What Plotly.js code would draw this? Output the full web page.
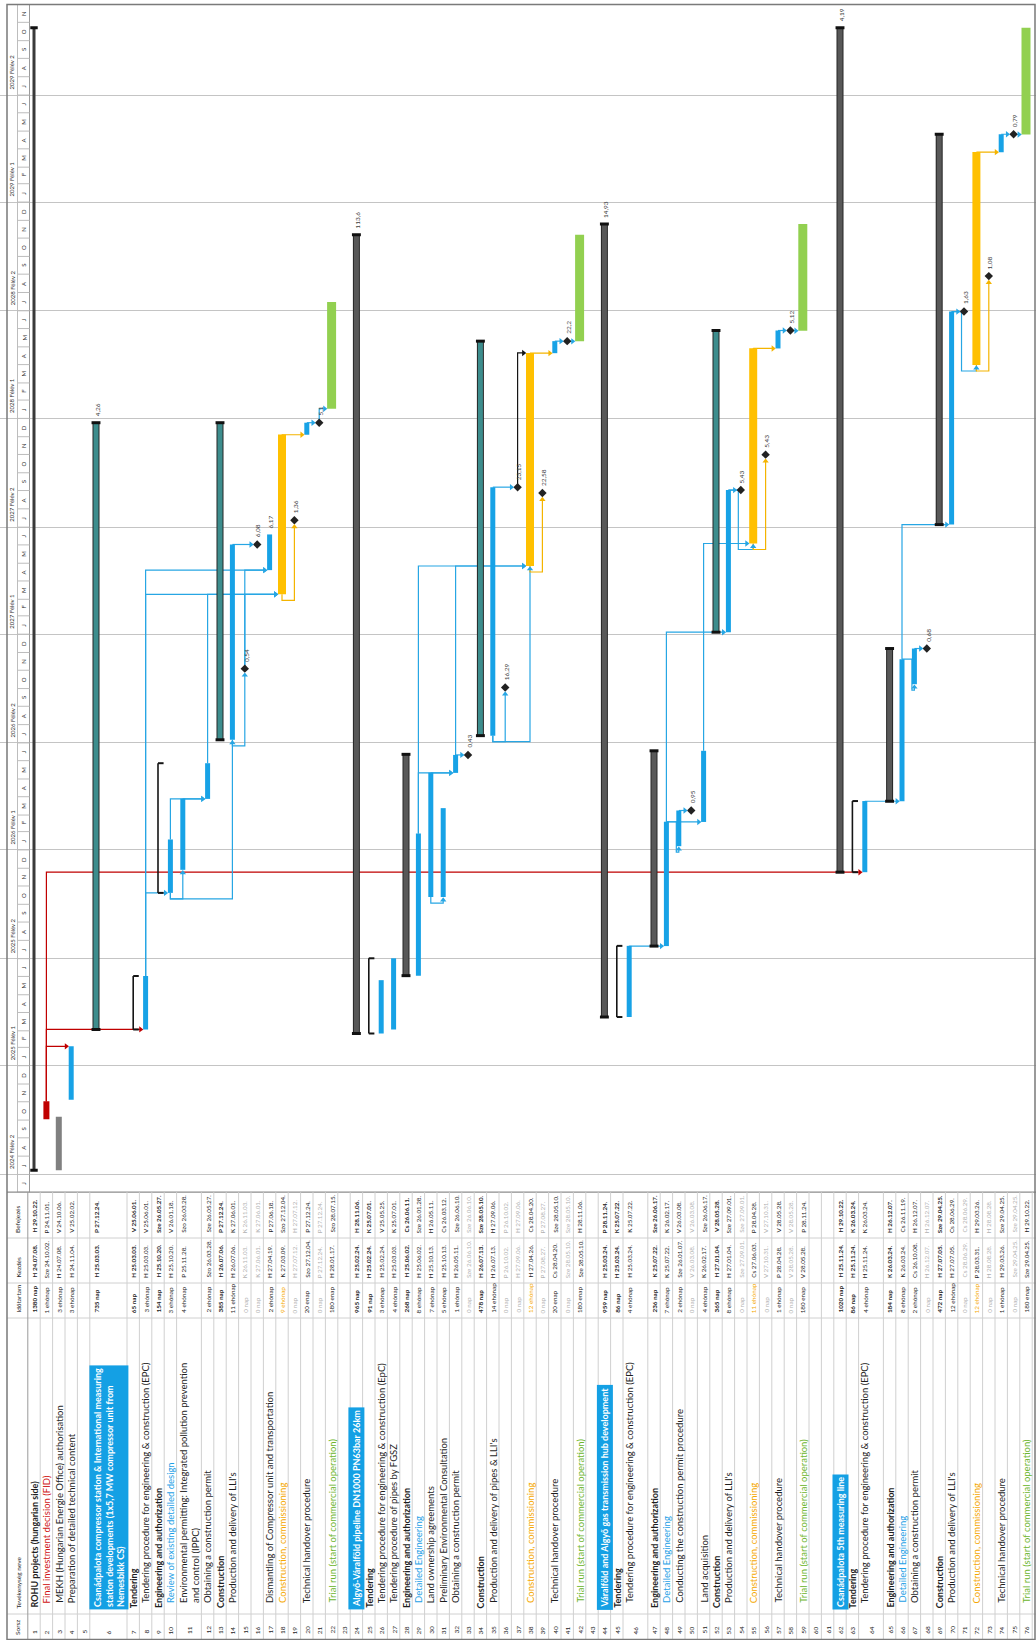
<!DOCTYPE html>
<html>
<head>
<meta charset="utf-8">
<script src="https://cdn.plot.ly/plotly-3.0.1.min.js"></script>
<style>
html,body{margin:0;padding:0;background:#ffffff;}
#gantt{width:1036px;height:1640px;}
</style>
</head>
<body>
<div id="gantt"></div>
<script>
// ===================== DATA =====================
const taskNames = [
 "ROHU projects (hungarian side)",                                  //1
 "Final investment decision (FID)",                                 //2
 "MEKH (Hungarian Energie Office) authorisation",                   //3
 "Preparation of detailed technical content",                       //4
 "",                                                                //5
 "Csanádpalota compressor station & International measuring<br>station developments (1x5,7 MW compressor unit from<br>Nemesbikk CS)", //6
 "Tendering",                                                       //7
 "Tendering procedure for engineering & construction (EPC)",        //8
 "Engineering and authorization",                                   //9
 "Review of existing detailed design",                              //10
 "Environmental permitting: Integrated pollution prevention<br>and control (IPPC)", //11
 "Obtaining a construction permit",                                 //12
 "Construction",                                                    //13
 "Production and delivery of LLI's",                                //14
 "",                                                                //15
 "",                                                                //16
 "Dismantling of Compressor unit and transportation",               //17
 "Construction, commissioning",                                     //18
 "",                                                                //19
 "Technical handover procedure",                                    //20
 "",                                                                //21
 "Trial run (start of commercial operation)",                       //22
 "",                                                                //23
 "Algyő-Váralföld pipeline DN1000 PN63bar 26km",                    //24
 "Tendering",                                                       //25
 "Tendering procedure for engineering & construction (EpC)",        //26
 "Tendering procedure of pipes by FGSZ",                            //27
 "Engineering and authorization",                                   //28
 "Detailed Engineering",                                            //29
 "Land ownership agreements",                                       //30
 "Preliminary Environmental Consultation",                          //31
 "Obtaining a construction permit",                                 //32
 "",                                                                //33
 "Construction",                                                    //34
 "Production and delivery of pipes & LLI's",                        //35
 "",                                                                //36
 "",                                                                //37
 "Construction, commissioning",                                     //38
 "",                                                                //39
 "Technical handover procedure",                                    //40
 "",                                                                //41
 "Trial run (start of commercial operation)",                       //42
 "",                                                                //43
 "Váralföld and Algyő gas transmission hub development",            //44
 "Tendering",                                                       //45
 "Tendering procedure for engineering & construction (EPC)",        //46
 "Engineering and authorization",                                   //47
 "Detailed Engineering",                                            //48
 "Conducting the construction permit procedure",                    //49
 "",                                                                //50
 "Land acquisition",                                                //51
 "Construction",                                                    //52
 "Production and delivery of LLI's",                                //53
 "",                                                                //54
 "Construction, commissioning",                                     //55
 "",                                                                //56
 "Technical handover procedure",                                    //57
 "",                                                                //58
 "Trial run (start of commercial operation)",                       //59
 "",                                                                //60
 "",                                                                //61
 "Csanádpalota 5th measuring line",                                 //62
 "Tendering",                                                       //63
 "Tendering procedure for engineering & construction (EPC)",        //64
 "Engineering and authorization",                                   //65
 "Detailed Engineering",                                            //66
 "Obtaining a construction permit",                                 //67
 "",                                                                //68
 "Construction",                                                    //69
 "Production and delivery of LLI's",                                //70
 "",                                                                //71
 "Construction, commissioning",                                     //72
 "",                                                                //73
 "Technical handover procedure",                                    //74
 "",                                                                //75
 "Trial run (start of commercial operation)"                        //76
];

const durations = [
 "1380 nap","1 ehónap","3 ehónap","3 ehónap","",
 "735 nap","65 nap","3 ehónap","154 nap","3 ehónap","4 ehónap","2 ehónap","385 nap","11 ehónap",
 "0 nap","0 nap","2 ehónap","9 ehónap","0 nap","20 enap","0 nap","180 enap","",
 "965 nap","91 nap","3 ehónap","4 ehónap","268 nap","8 ehónap","7 ehónap","5 ehónap","1 ehónap",
 "0 nap","478 nap","14 ehónap","0 nap","0 nap","12 ehónap","0 nap","20 enap","0 nap","180 enap","",
 "959 nap","86 nap","4 ehónap","236 nap","7 ehónap","2 ehónap","0 nap","4 ehónap","365 nap",
 "8 ehónap","0 nap","11 ehónap","0 nap","1 ehónap","0 nap","180 enap","","",
 "1020 nap","86 nap","4 ehónap","184 nap","8 ehónap","2 ehónap","0 nap","472 nap","12 ehónap",
 "0 nap","12 ehónap","0 nap","1 ehónap","0 nap","180 enap"
];

const startDates = [
 "H 24.07.08.","Sze 24.10.02.","H 24.07.08.","H 24.11.04.","",
 "H 25.03.03.","H 25.03.03.","H 25.03.03.","H 25.10.20.","H 25.10.20.","P 25.11.28.","Szo 26.03.28.","H 26.07.06.","H 26.07.06.",
 "K 26.11.03.","K 27.06.01.","H 27.04.19.","K 27.03.09.","H 27.07.12.","Szo 27.12.04.","P 27.12.24.","H 28.01.17.","",
 "H 25.02.24.","H 25.02.24.","H 25.02.24.","H 25.03.03.","H 25.06.02.","H 25.06.02.","H 25.10.13.","H 25.10.13.","H 26.05.11.",
 "Sze 26.06.10.","H 26.07.13.","H 26.07.13.","P 26.10.02.","H 27.09.06.","H 27.04.26.","P 27.08.27.","Cs 28.04.20.","Sze 28.05.10.","Sze 28.05.10.","",
 "H 25.03.24.","H 25.03.24.","H 25.03.24.","K 25.07.22.","K 25.07.22.","Sze 26.01.07.","V 26.03.08.","K 26.02.17.","H 27.01.04.",
 "H 27.01.04.","Sze 27.09.01.","Cs 27.06.03.","V 27.10.31.","P 28.04.28.","V 28.05.28.","V 28.05.28.","","",
 "H 25.11.24.","H 25.11.24.","H 25.11.24.","K 26.03.24.","K 26.03.24.","Cs 26.10.08.","H 26.12.07.","H 27.07.05.","H 27.07.05.",
 "Cs 28.06.29.","P 28.03.31.","H 28.08.28.","H 29.03.26.","Sze 29.04.25.","Sze 29.04.25."
];

const endDates = [
 "H 29.10.22.","P 24.11.01.","V 24.10.06.","V 25.02.02.","",
 "P 27.12.24.","V 25.06.01.","V 25.06.01.","Sze 26.05.27.","V 26.01.18.","Szo 26.03.28.","Sze 26.05.27.","P 27.12.24.","K 27.06.01.",
 "K 26.11.03.","K 27.06.01.","P 27.06.18.","Szo 27.12.04.","H 27.07.12.","P 27.12.24.","P 27.12.24.","Szo 28.07.15.","",
 "H 28.11.06.","K 25.07.01.","V 25.05.25.","K 25.07.01.","Cs 26.06.11.","Sze 26.01.28.","H 26.05.11.","Cs 26.03.12.","Sze 26.06.10.",
 "Sze 26.06.10.","Sze 28.05.10.","H 27.09.06.","P 26.10.02.","H 27.09.06.","Cs 28.04.20.","P 27.08.27.","Sze 28.05.10.","Sze 28.05.10.","H 28.11.06.","",
 "P 28.11.24.","K 25.07.22.","K 25.07.22.","Sze 26.06.17.","K 26.02.17.","V 26.03.08.","V 26.03.08.","Sze 26.06.17.","V 28.05.28.",
 "Sze 27.09.01.","Sze 27.09.01.","P 28.04.28.","V 27.10.31.","V 28.05.28.","V 28.05.28.","P 28.11.24.","","",
 "H 29.10.22.","K 26.03.24.","K 26.03.24.","H 26.12.07.","Cs 26.11.19.","H 26.12.07.","H 26.12.07.","Sze 29.04.25.","Cs 28.06.29.",
 "Cs 28.06.29.","H 29.03.26.","H 28.08.28.","Sze 29.04.25.","Sze 29.04.25.","H 29.10.22."
];

// task kind (semantic category of each row)
const taskType = [
 "project","fid","authority","task","none",
 "summary","bracket","task","bracket","task","task","task","summary","task",
 "milestone","milestone","task","commissioning","milestone","task","milestone","trial","none",
 "darksum","bracket","task","task","darksum","task","task","task","task",
 "milestone","summary","task","milestone","milestone","commissioning","milestone","task","milestone","trial","none",
 "darksum","bracket","task","darksum","task","task","milestone","task","summary",
 "task","milestone","commissioning","milestone","task","milestone","trial","none","none",
 "darksum","bracket","task","darksum","task","task","milestone","darksum","task",
 "milestone","commissioning","milestone","task","milestone","trial"
];

// outline level of each row
const outlineLevel = [
 1,2,2,2,0,
 2,3,4,3,4,4,4,3,4,
 4,4,4,4,4,4,4,4,0,
 2,3,4,4,3,4,4,4,4,
 4,3,4,4,4,4,4,4,4,4,0,
 2,3,4,3,4,4,4,4,3,
 4,4,4,4,4,4,4,0,0,
 2,3,4,3,4,4,4,3,4,
 4,4,4,4,4,4
];

// numbers written next to bar ends / milestones
const labelRows  = [6,15,16,17,19,21,24,33,36,37,39,41,44,50,54,56,58,62,68,71,73,75];
const labelTexts = ["4,26","0,54","6,08","6,17","1,36","5,1","113,6","0,43","16,29","23,15","22,58","22,2",
                    "14,93","0,95","5,43","5,43","5,12","4,19","0,68","1,63","1,08","0,79"];

// dependency links: predecessor row, successor row, kind
const linkFrom = [2,2,2,8,8,8,10,10,10,11,12,14,14,15,15,18,18,20,21,
                  29,30,30,29,32,32,35,35,35,37,38,38,40,41,
                  46,48,48,48,49,51,53,53,55,55,57,58,
                  64,66,66,67,70,70,72,72,74,75];
const linkTo   = [4,8,64,10,17,18,11,14,12,12,18,15,16,17,18,19,20,21,22,
                  32,32,31,38,38,33,36,38,37,38,39,40,41,42,
                  48,49,51,53,50,55,54,55,56,57,58,59,
                  66,67,70,68,71,72,73,74,75,76];
const linkKind = ["FF","FS","FS","FS","FS","FS","SS","SS","FS","FS","FS","SS","FS","FS","FS","SS","FS","FS","FS",
                  "FS","FS","SS","FS","FS","FS","SS","SS","FS","FF","SS","FS","FS","FS",
                  "FS","FS","FS","FS","FS","FS","FS","FS","SS","FS","FS","FS",
                  "FS","FS","FS","FS","FS","FS","SS","FS","FS","FS"];

const tableHeaders = ["Sorsz","Tevékenység neve","Időtartam","Kezdés","Befejezés"];
const monthLetters = ["J","F","M","A","M","J","J","A","S","O","N","D"];
const halfYearLabel = "Félév";

// ===================== LAYOUT / STYLE =====================
const W = 1036, H = 1640;
const FONT = 'Lato, "Open Sans", "DejaVu Sans", sans-serif';
const DAY = 864e5;
const U = 12.4, X0 = 34;                    // px per row unit, px of first unit
const px2x = px => (px - X0) / U;
const yPaper = px => 1 - px / H;
const PLOT_TOP = 4.6, TABLE_TOP = 1192.2;
const T_MIN = Date.UTC(2024,5,1), T_MAX = Date.UTC(2029,11,1);
const PX_PER_DAY = (TABLE_TOP - PLOT_TOP) / ((T_MAX - T_MIN) / DAY);
const pxMs = px => px / PX_PER_DAY * DAY;
const COL = {end:[1192.2,1238], start:[1238,1283], dur:[1283,1318], name:[1318,1614], num:[1614,1640]};
const rowSpan = {6:3, 11:2, 46:2, 64:2};

const C = {
  blue:'#17a2e6', linkBlue:'#27a6e4', orange:'#ffc000', linkOrange:'#f4b400', green:'#92d050',
  red:'#c00000', gray:'#808080', teal:'#3d8d8d', dark:'#585858', edge:'#262626', black:'#151515',
  grid:'#c4c4c4', tline:'#d0d0d0', border:'#7a7a7a', text:'#1e1e1e', faint:'#b0b0b0',
  cellBlue:'#14a0e4', nameBlue:'#1e9fe6', nameOrange:'#f5a800', nameGreen:'#6db52d', nameRed:'#d01414'
};
const BAR = {
  project:{w:3, c:'#3a3a3a', caps:'center', capW:0.3},
  fid:{w:6, c:C.red},
  authority:{w:6, c:C.gray},
  task:{w:5, c:C.blue},
  summary:{w:5, c:C.teal, edge:C.edge, caps:'center', capW:0.36},
  darksum:{w:5, c:C.dark, edge:C.edge, caps:'center', capW:0.36},
  bracket:{w:1.6, c:C.black, caps:'right', capW:0.45},
  commissioning:{w:8, c:C.orange},
  trial:{w:9, c:C.green}
};
const NAME_SIZE = 9.5, CELL_SIZE = 9, SMALL_SIZE = 6.3;

// ---------- helpers ----------
function parseHu(s){ const m = s.match(/(\d\d)\.(\d\d)\.(\d\d)\./); return Date.UTC(2000 + +m[1], +m[2]-1, +m[3]); }
const N = taskNames.length;
const unitOf = []; { let u = 0; for (let i = 0; i < N; i++){ unitOf.push(u); u += (rowSpan[i+1] || 1); } }
const bandCenter = i => unitOf[i] + ((rowSpan[i+1] || 1) - 1) / 2;
const isMs = i => taskType[i] === 'milestone';
const yStart = i => isMs(i) ? parseHu(endDates[i]) + 0.7*DAY : parseHu(startDates[i]) + 0.33*DAY;
const yEnd   = i => parseHu(endDates[i]) + 0.7*DAY;
const halfW  = i => isMs(i) ? 3.8/U : (BAR[taskType[i]].w/2 + (BAR[taskType[i]].edge ? 1 : 0))/U;
const esc = s => s.replace(/&/g, '&amp;');

const groups = {};
function seg(key, x0, y0, x1, y1){ (groups[key] = groups[key] || {x:[], y:[]}); groups[key].x.push(x0, x1, null); groups[key].y.push(y0, y1, null); }
function poly(key, pts){ (groups[key] = groups[key] || {x:[], y:[]}); pts.forEach(p => { groups[key].x.push(p[0]); groups[key].y.push(p[1]); }); groups[key].x.push(null); groups[key].y.push(null); }
const arrows = {};
function arrow(key, x, y){ (arrows[key] = arrows[key] || {x:[], y:[]}); arrows[key].x.push(x); arrows[key].y.push(y); }

// ---------- links ----------
function linkColor(p, kind){
  const t = taskType[p];
  if (t === 'fid') return 'red';
  if (t === 'commissioning') return 'orange';
  if (kind === 'FF' && t === 'milestone') return 'black';
  return 'blue';
}
for (let k = 0; k < linkFrom.length; k++){
  const p = linkFrom[k]-1, s = linkTo[k]-1, kind = linkKind[k];
  const xp = unitOf[p], xs = unitOf[s];
  const col = linkColor(p, kind);
  if (kind === 'SS'){
    const yb = yStart(p) - pxMs(6);
    const ye = yStart(s) - pxMs(isMs(s) ? 6.5 : 3);
    poly('link:'+col, [[xp, yStart(p)], [xp, yb], [xs, yb], [xs, ye]]);
    arrow(col+':up', xs, ye);
  } else {
    const yT = kind === 'FF' ? yEnd(s) : yStart(s);
    const yP = yEnd(p);
    if (kind === 'FS' && yT < yP - 1.5*DAY){
      const xm = xp + 0.8, yb = yT - pxMs(6), ye = yT - pxMs(isMs(s) ? 6.5 : 3);
      poly('link:'+col, [[xp, yP], [xm, yP], [xm, yb], [xs, yb], [xs, ye]]);
      arrow(col+':up', xs, ye);
    } else {
      const xe = xs - halfW(s) - 2.5/U;
      poly('link:'+col, [[xp, yP], [xp, yT], [xe, yT]]);
      arrow(col+':right', xe, yT);
    }
  }
}

// ---------- bars ----------
const msX = [], msY = [];
for (let i = 0; i < N; i++){
  const t = taskType[i];
  if (t === 'none') continue;
  const x = unitOf[i];
  if (t === 'milestone'){ msX.push(x); msY.push(yEnd(i)); continue; }
  const b = BAR[t], y0 = yStart(i), y1 = yEnd(i);
  if (b.edge) seg('edge:'+t, x, y0, x, y1);
  seg('bar:'+t, x, y0, x, y1);
  if (b.caps === 'center'){ seg('cap:'+t, x-b.capW, y0, x+b.capW, y0); seg('cap:'+t, x-b.capW, y1, x+b.capW, y1); }
  if (b.caps === 'right'){ seg('cap:'+t, x, y0, x+b.capW, y0); seg('cap:'+t, x, y1, x+b.capW, y1); }
}

const traces = [];
const LINKC = {blue:C.linkBlue, orange:C.linkOrange, red:C.red, black:C.black};
const base = {type:'scatter', hoverinfo:'skip', showlegend:false, xaxis:'x', yaxis:'y'};
Object.keys(groups).filter(k => k.startsWith('link:')).forEach(k => {
  traces.push(Object.assign({}, base, {mode:'lines', x:groups[k].x, y:groups[k].y, line:{color:LINKC[k.slice(5)], width:1.2}}));
});
['edge','bar','cap'].forEach(layer => {
  Object.keys(groups).filter(k => k.startsWith(layer+':')).forEach(k => {
    const t = k.split(':')[1], b = BAR[t];
    let color = b.c, width = b.w;
    if (layer === 'edge'){ color = b.edge; width = b.w + 2; }
    if (layer === 'cap'){ color = b.caps === 'right' ? C.black : '#111111'; width = b.caps === 'right' ? 2 : 3; }
    traces.push(Object.assign({}, base, {mode:'lines', x:groups[k].x, y:groups[k].y, line:{color, width}}));
  });
});
traces.push(Object.assign({}, base, {mode:'markers', x:msX, y:msY, marker:{symbol:'diamond', size:6.5, color:'#222222', line:{width:0}}}));
Object.keys(arrows).forEach(k => {
  const [col, dir] = k.split(':');
  traces.push(Object.assign({}, base, {mode:'markers', x:arrows[k].x, y:arrows[k].y,
    marker:{symbol: dir === 'up' ? 'triangle-up' : 'triangle-right', size:5.5, color:LINKC[col], line:{width:0}}}));
});

// ---------- shapes ----------
const shapes = [];
const hline = (x0px, x1px, ypx, color, width) => shapes.push({type:'line', xref:'x', yref:'paper', x0:px2x(x0px), x1:px2x(x1px), y0:yPaper(ypx), y1:yPaper(ypx), line:{color, width}});
const vline = (xpx, y0px, y1px, color, width) => shapes.push({type:'line', xref:'x', yref:'paper', x0:px2x(xpx), x1:px2x(xpx), y0:yPaper(y0px), y1:yPaper(y1px), line:{color, width}});

// timeline header (rotated): tier separator, right edge, month ticks
vline(17.5, PLOT_TOP, TABLE_TOP, '#bdbdbd', 1);
vline(29.5, PLOT_TOP, TABLE_TOP, '#9a9a9a', 1);
const months = [];
for (let y = 2024, m = 5; ; m++){
  if (m > 11){ m = 0; y++; }
  if (y === 2029 && m > 10) break;
  months.push([y, m]);
}
months.forEach(([y, m]) => {
  const t = Date.UTC(y, m, 1);
  shapes.push({type:'line', xref:'x', yref:'y', x0:px2x(17.5), x1:px2x(29.5), y0:t, y1:t, line:{color:'#bdbdbd', width:1}});
});
// table lines
hline(7, W, TABLE_TOP, '#8c8c8c', 1.2);
[COL.end[1], COL.start[1], COL.dur[1], COL.name[1]].forEach(y => hline(7, W, y, C.tline, 1));
for (let i = 0; i <= N; i++){
  const u = i < N ? unitOf[i] - 0.5 : unitOf[N-1] + (rowSpan[N] || 1) - 0.5;
  shapes.push({type:'line', xref:'x', yref:'paper', x0:u, x1:u, y0:yPaper(TABLE_TOP), y1:yPaper(H), line:{color: i === 0 ? '#9a9a9a' : C.tline, width:1}});
}
// outer border
shapes.push({type:'rect', xref:'paper', yref:'paper', x0:7/W, x1:1035/W, y0:yPaper(1639.5), y1:yPaper(PLOT_TOP), line:{color:C.border, width:1.5}, fillcolor:'rgba(0,0,0,0)'});

// ---------- annotations ----------
const ann = [];
function vtext(x, ypx, text, size, color, extra){
  ann.push(Object.assign({x, y:yPaper(ypx), xref:'x', yref:'paper', text, showarrow:false, textangle:-90,
    xanchor:'center', yanchor:'bottom', align:'left', font:{family:FONT, size, color}}, extra || {}));
}
// timeline header text
months.forEach(([y, m]) => {
  const mid = Date.UTC(y, m, 1) + 15*DAY;
  ann.push({x:px2x(23.5), y:mid, xref:'x', yref:'y', text:monthLetters[m], showarrow:false, textangle:-90,
    xanchor:'center', yanchor:'middle', font:{family:FONT, size:6, color:'#333'}});
  if ((m === 0 || m === 6) && Date.UTC(y, m, 1) >= Date.UTC(2024,6,1)){
    ann.push({x:px2x(12), y:Date.UTC(y, m, 1), xref:'x', yref:'y', yshift:3, text:y + ' ' + halfYearLabel + ' ' + (m === 0 ? 1 : 2),
      showarrow:false, textangle:-90, xanchor:'center', yanchor:'bottom', font:{family:FONT, size:6, color:'#333'}});
  }
});
// table header cell
const hx = px2x(17.5);
vtext(hx, COL.num[1]-3,   tableHeaders[0], 6.5, C.text);
vtext(hx, COL.name[1]-3,  tableHeaders[1], 6.5, C.text);
vtext(hx, COL.dur[1]-3,   tableHeaders[2], 6.5, C.text);
vtext(hx, COL.start[1]-3, tableHeaders[3], 6.5, C.text);
vtext(hx, COL.end[1]-3,   tableHeaders[4], 6.5, C.text);

// table rows
for (let i = 0; i < N; i++){
  const t = taskType[i], lvl = outlineLevel[i];
  const bc = bandCenter(i), x1 = unitOf[i];
  const bold = ['project','summary','darksum','bracket'].includes(t);
  vtext(bc, COL.num[1]-4, String(i+1), 6.5, C.text);
  if (t === 'none') continue;
  const name = taskNames[i];
  if (name){
    const blueCell = lvl === 2 && (t === 'summary' || t === 'darksum');
    let color = C.text;
    if (t === 'fid') color = C.nameRed;
    else if (t === 'commissioning') color = C.nameOrange;
    else if (t === 'trial') color = C.nameGreen;
    else if (/Detailed Engineering|Review of existing/.test(name)) color = C.nameBlue;
    const indent = (lvl === 4 || (lvl === 2 && !blueCell)) ? 9 : 4;
    const txt = bold ? '<b>' + esc(name) + '</b>' : esc(name);
    const xName = (rowSpan[i+1] && name.indexOf('<br>') < 0) ? x1 : bc;
    if (blueCell){
      vtext(xName, COL.name[1]-4, txt, CELL_SIZE, '#ffffff', {bgcolor:C.cellBlue, borderpad:2});
    } else {
      vtext(xName, COL.name[1]-indent, txt, bold ? NAME_SIZE - 0.5 : NAME_SIZE, color);
    }
  }
  const faint = t === 'milestone';
  const dcol = faint ? C.faint : (t === 'commissioning' ? C.nameOrange : C.text);
  const wrap = s => bold ? '<b>' + s + '</b>' : s;
  vtext(x1, COL.dur[1]-3,   wrap(durations[i]),  SMALL_SIZE, dcol);
  vtext(x1, COL.start[1]-3, wrap(startDates[i]), SMALL_SIZE, faint ? C.faint : C.text);
  vtext(x1, COL.end[1]-3,   wrap(endDates[i]),   SMALL_SIZE, faint ? C.faint : C.text);
}
// numbers at bar ends / milestones
labelRows.forEach((r, k) => {
  ann.push({x:unitOf[r-1], y:yEnd(r-1), xref:'x', yref:'y', yshift:isMs(r-1) ? 5 : 4, xshift:1,
    text:labelTexts[k], showarrow:false, textangle:-90, xanchor:'center', yanchor:'bottom',
    font:{family:FONT, size:6.5, color:'#404040'}});
});

const layout = {
  width:W, height:H, margin:{l:0, r:0, t:0, b:0}, paper_bgcolor:'#ffffff', plot_bgcolor:'rgba(0,0,0,0)', showlegend:false,
  xaxis:{range:[px2x(0), px2x(W)], visible:false, fixedrange:true},
  yaxis:{type:'date', domain:[yPaper(TABLE_TOP), yPaper(PLOT_TOP)], range:['2024-06-01','2029-12-01'],
         showgrid:true, gridcolor:C.grid, gridwidth:1, dtick:'M6', tick0:'2024-07-01',
         showticklabels:false, ticks:'', zeroline:false, showline:false, fixedrange:true},
  shapes, annotations:ann
};
Plotly.newPlot('gantt', traces, layout, {staticPlot:true, displayModeBar:false});
</script>
</body>
</html>
